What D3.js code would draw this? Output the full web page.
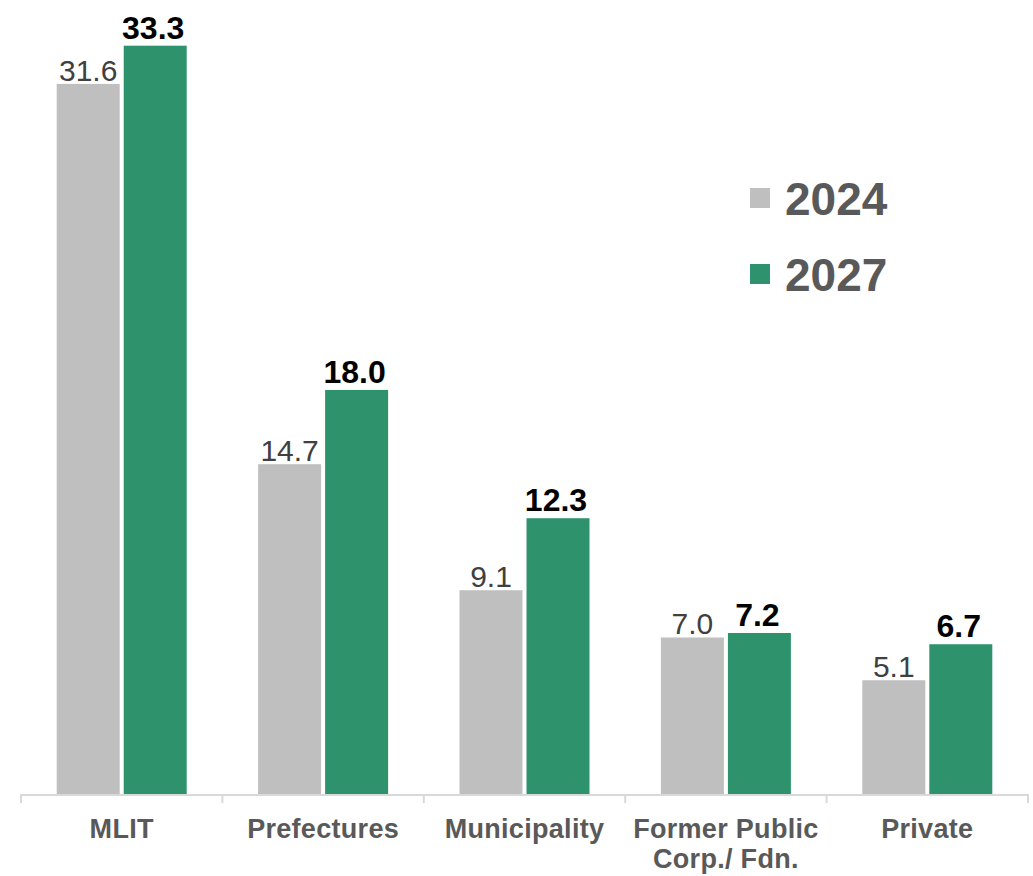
<!DOCTYPE html>
<html>
<head>
<meta charset="utf-8">
<script src="https://cdn.jsdelivr.net/npm/d3@7"></script>
<style>
  html, body { margin: 0; padding: 0; background: #fff; }
  svg { display: block; font-family: "Liberation Sans", Arial, sans-serif; }
</style>
</head>
<body>
<svg id="chart" width="1033" height="876"></svg>
<script>
const categories = [["MLIT"], ["Prefectures"], ["Municipality"], ["Former Public", "Corp./ Fdn."], ["Private"]];
const seriesNames = ["2024", "2027"];
const values2024 = [31.6, 14.7, 9.1, 7.0, 5.1];
const values2027 = [33.3, 18.0, 12.3, 7.2, 6.7];
const seriesColors = ["#BFBFBF", "#2E936C"];

const svg = d3.select("#chart");
const catKeys = categories.map(c => c.join(" "));
const seriesValues = [values2024, values2027];

const x = d3.scaleBand().domain(catKeys).range([21, 1028]).padding(0);
const bw = x.bandwidth();
const xs = d3.scaleBand().domain(seriesNames).range([bw / 2 - 65, bw / 2 + 65]).paddingInner(0.06);
const y = d3.scaleLinear().domain([0, 35.33]).range([795, 0]);

// bars
seriesNames.forEach((s, si) => {
  svg.append("g").selectAll("rect")
    .data(seriesValues[si])
    .join("rect")
    .attr("x", (d, i) => x(catKeys[i]) + xs(s))
    .attr("y", d => y(d))
    .attr("width", xs.bandwidth())
    .attr("height", d => y(0) - y(d))
    .attr("fill", seriesColors[si]);
});

// value labels
svg.append("g").selectAll("text")
  .data(values2024)
  .join("text")
  .attr("x", (d, i) => x(catKeys[i]) + xs("2024") + xs.bandwidth() / 2)
  .attr("y", d => y(d) - 3)
  .attr("text-anchor", "middle")
  .attr("font-size", 30)
  .attr("fill", "#404040")
  .text(d => d.toFixed(1));

svg.append("g").selectAll("text")
  .data(values2027)
  .join("text")
  .attr("x", (d, i) => x(catKeys[i]) + xs("2027") + xs.bandwidth() / 2 - 2)
  .attr("y", d => Math.max(y(d) - 7, 33))
  .attr("text-anchor", "middle")
  .attr("font-size", 32)
  .attr("font-weight", "bold")
  .attr("fill", "#000")
  .text(d => d.toFixed(1));

// axis
const axis = d3.axisBottom(x).tickSize(8).tickFormat("");
const ag = svg.append("g").attr("transform", `translate(0,${y(0)})`).call(axis);
ag.selectAll(".tick").remove();
ag.select(".domain").attr("stroke", "#D9D9D9").attr("stroke-width", 2)
  .attr("d", `M21,8V0H1028V8`);
// boundary ticks
const bounds = catKeys.map(k => x(k)).concat([x(catKeys[catKeys.length - 1]) + bw]);
ag.selectAll("line.bt").data(bounds).join("line")
  .attr("class", "bt")
  .attr("x1", d => d).attr("x2", d => d)
  .attr("y1", 0).attr("y2", 8)
  .attr("stroke", "#D9D9D9").attr("stroke-width", 2);

// category labels
const cl = svg.append("g").selectAll("text")
  .data(categories)
  .join("text")
  .attr("x", (d, i) => x(catKeys[i]) + bw / 2)
  .attr("y", 838)
  .attr("text-anchor", "middle")
  .attr("font-size", 27)
  .attr("font-weight", "bold")
  .attr("letter-spacing", 0.3)
  .attr("fill", "#595959");
cl.selectAll("tspan")
  .data(d => d)
  .join("tspan")
  .attr("x", function () { return d3.select(this.parentNode).attr("x"); })
  .attr("dy", (d, i) => i === 0 ? 0 : 30)
  .text(d => d);

// legend
const lg = svg.append("g").selectAll("g")
  .data(seriesNames)
  .join("g")
  .attr("transform", (d, i) => `translate(750,${188 + i * 76})`);
lg.append("rect").attr("width", 20).attr("height", 20)
  .attr("fill", (d, i) => seriesColors[i]);
lg.append("text").attr("x", 35).attr("y", 27)
  .attr("font-size", 46).attr("font-weight", "bold")
  .attr("fill", "#595959")
  .text(d => d);
</script>
</body>
</html>
